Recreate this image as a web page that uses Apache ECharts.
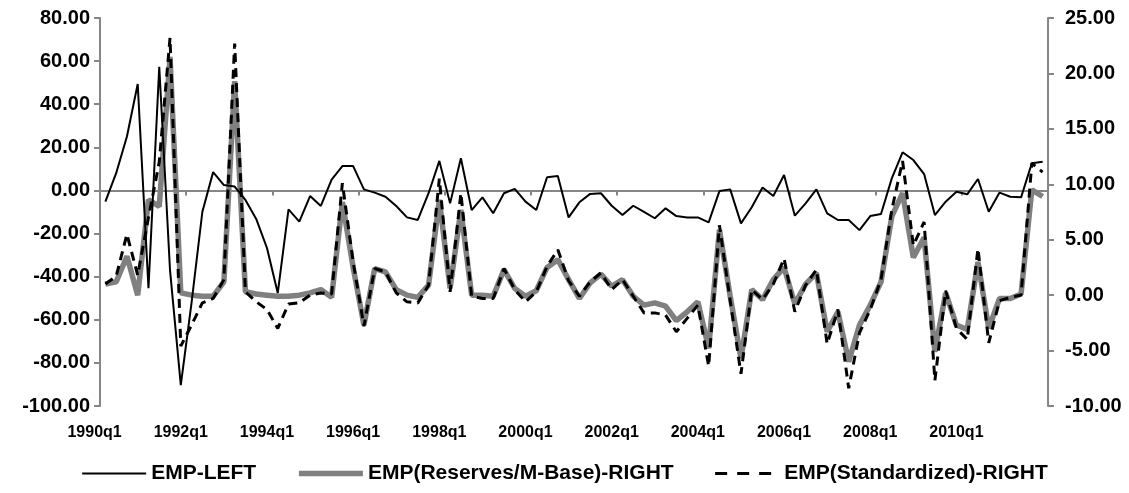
<!DOCTYPE html>
<html><head><meta charset="utf-8">
<script src="https://cdn.jsdelivr.net/npm/echarts@6/dist/echarts.min.js"></script>
<style>html,body{margin:0;padding:0;background:#fff}#c{width:1129px;height:493px}</style>
</head><body><div id="c"></div>
<script>
const quarters = [
'1990q1','1990q2','1990q3','1990q4','1991q1','1991q2','1991q3','1991q4',
'1992q1','1992q2','1992q3','1992q4','1993q1','1993q2','1993q3','1993q4',
'1994q1','1994q2','1994q3','1994q4','1995q1','1995q2','1995q3','1995q4',
'1996q1','1996q2','1996q3','1996q4','1997q1','1997q2','1997q3','1997q4',
'1998q1','1998q2','1998q3','1998q4','1999q1','1999q2','1999q3','1999q4',
'2000q1','2000q2','2000q3','2000q4','2001q1','2001q2','2001q3','2001q4',
'2002q1','2002q2','2002q3','2002q4','2003q1','2003q2','2003q3','2003q4',
'2004q1','2004q2','2004q3','2004q4','2005q1','2005q2','2005q3','2005q4',
'2006q1','2006q2','2006q3','2006q4','2007q1','2007q2','2007q3','2007q4',
'2008q1','2008q2','2008q3','2008q4','2009q1','2009q2','2009q3','2009q4',
'2010q1','2010q2','2010q3','2010q4','2011q1','2011q2','2011q3','2011q4'];

const empLeft = [
-5.2, 8.0, 25.0, 49.4, -45.4, 57.4, -37.0, -90.3,
-52.0, -10.0, 8.5, 2.5, 1.8, -4.4, -13.2, -26.7,
-47.6, -8.8, -14.5, -2.6, -7.2, 5.0, 11.3, 11.3,
0.5, -1.0, -2.9, -7.2, -12.5, -13.7, -1.3, 13.7,
-6.0, 14.9, -9.1, -3.2, -10.6, -1.3, 0.7, -5.2,
-9.1, 6.1, 6.7, -12.5, -5.5, -1.6, -1.3, -7.1,
-11.4, -7.1, -9.9, -12.9, -8.3, -11.9, -12.5, -12.5,
-14.8, -0.3, 0.5, -15.3, -7.8, 1.4, -2.6, 7.2,
-11.7, -6.0, 0.5, -10.6, -13.7, -13.7, -18.4, -11.9,
-10.9, 5.6, 17.7, 14.1, 7.6, -11.4, -5.2, -0.6,
-1.8, 5.3, -9.9, -1.0, -2.9, -3.2, 12.6, 13.3];

const empReserves = [
1.0, 1.2, 3.5, 0.0, 8.6, 8.0, 21.5, 0.2,
0.0, -0.1, -0.1, 1.2, 19.3, 0.3, 0.1, 0.0,
-0.1, -0.1, 0.0, 0.2, 0.5, -0.2, 8.4, 2.5,
-2.7, 2.4, 2.1, 0.5, 0.0, -0.2, 0.9, 8.6,
0.6, 7.7, 0.0, 0.0, -0.1, 2.3, 0.6, -0.1,
0.4, 2.5, 3.2, 1.4, -0.3, 1.1, 1.9, 0.8,
1.4, -0.1, -0.9, -0.7, -1.0, -2.3, -1.5, -0.6,
-4.8, 5.9, -0.1, -5.7, 0.5, -0.4, 1.4, 2.5,
-0.8, 1.0, 2.0, -3.3, -1.5, -6.0, -2.7, -0.9,
1.2, 7.1, 9.2, 3.4, 5.2, -5.1, 0.2, -2.7,
-3.1, 3.0, -3.0, -0.3, -0.3, 0.1, 9.5, 8.9];

const empStandardized = [
1.0, 1.7, 5.5, 1.8, 7.0, 12.0, 23.2, -4.6,
-2.7, -0.7, -0.3, 1.4, 22.7, 0.3, -0.6, -1.3,
-3.0, -0.8, -0.7, 0.0, 0.2, 0.1, 10.1, 3.0,
-2.8, 2.4, 2.1, 0.2, -0.6, -0.7, 0.9, 10.5,
0.3, 9.2, -0.1, -0.3, -0.3, 2.4, 0.5, -0.6,
0.3, 2.6, 4.1, 1.3, -0.1, 1.2, 2.0, 0.5,
1.4, -0.1, -1.6, -1.6, -1.8, -3.3, -2.1, -0.9,
-6.4, 6.3, -0.5, -7.1, 0.5, -0.4, 1.0, 3.3,
-1.5, 0.9, 2.3, -4.4, -1.3, -8.4, -3.4, -1.3,
1.4, 7.7, 12.1, 4.5, 6.6, -7.7, 0.4, -3.0,
-4.0, 4.2, -4.3, -0.5, -0.2, 0.0, 11.9, 11.1];

const seriesNames = ['EMP-LEFT', 'EMP(Reserves/M-Base)-RIGHT', 'EMP(Standardized)-RIGHT'];
const leftAxisRange = [-100, 80, 20];
const rightAxisRange = [-10, 25, 5];

const FONT = '"Liberation Sans", Arial, sans-serif';
const AXIS_GRAY = '#868686';
const chart = echarts.init(document.getElementById('c'), null, {renderer: 'canvas'});

const yAxisCommon = {
  type: 'value',
  splitLine: {show: false},
  axisLine: {show: true, lineStyle: {color: AXIS_GRAY, width: 2}},
  axisTick: {show: true, inside: false, length: 6, lineStyle: {color: AXIS_GRAY, width: 2}},
  axisLabel: {color: '#000', fontFamily: FONT, fontWeight: 'bold', fontSize: 20, margin: 10,
    formatter: v => v.toFixed(2)}
};

chart.setOption({
  animation: false,
  backgroundColor: '#fff',
  grid: {left: 100, right: 81, top: 18, bottom: 87, containLabel: false},
  legend: {
    bottom: 4, left: 'center', itemWidth: 64, itemHeight: 14, itemGap: 40,
    itemStyle: {opacity: 0},
    lineStyle: {width: 'inherit'},
    textStyle: {color: '#000', fontFamily: FONT, fontWeight: 'bold', fontSize: 21},
    data: [
      {name: seriesNames[0], lineStyle: {width: 2}},
      {name: seriesNames[1], lineStyle: {width: 5.5}},
      {name: seriesNames[2], lineStyle: {width: 3, type: [12, 10]}}
    ]
  },
  xAxis: [
    {
      type: 'category', data: quarters, boundaryGap: true, position: 'bottom',
      axisLine: {show: false, onZero: false},
      axisTick: {show: false},
      axisLabel: {interval: 7, color: '#000', fontFamily: FONT, fontWeight: 'bold', fontSize: 16,
        margin: 19, padding: [0, 21.6, 0, 0]}
    },
    {
      type: 'category', data: quarters, boundaryGap: true, position: 'bottom',
      axisLine: {show: true, onZero: true, onZeroAxisIndex: 0, lineStyle: {color: AXIS_GRAY, width: 2}},
      axisTick: {show: true, interval: 7, length: 5, lineStyle: {color: AXIS_GRAY, width: 2}},
      axisLabel: {show: false}
    }
  ],
  yAxis: [
    Object.assign({}, yAxisCommon, {position: 'left', min: leftAxisRange[0], max: leftAxisRange[1], interval: leftAxisRange[2]}),
    Object.assign({}, yAxisCommon, {position: 'right', min: rightAxisRange[0], max: rightAxisRange[1], interval: rightAxisRange[2],
      axisLabel: Object.assign({}, yAxisCommon.axisLabel, {margin: 17})})
  ],
  series: [
    {name: seriesNames[0], type: 'line', xAxisIndex: 0, yAxisIndex: 0, data: empLeft,
      symbol: 'none', lineStyle: {color: '#000', width: 2}, itemStyle: {color: '#000', opacity: 0}, z: 3},
    {name: seriesNames[1], type: 'line', xAxisIndex: 0, yAxisIndex: 1, data: empReserves,
      symbol: 'none', lineStyle: {color: '#808080', width: 5.5}, itemStyle: {color: '#808080', opacity: 0}, z: 2},
    {name: seriesNames[2], type: 'line', xAxisIndex: 0, yAxisIndex: 1, data: empStandardized,
      symbol: 'none', lineStyle: {color: '#000', width: 3, type: [9, 6]}, itemStyle: {color: '#000', opacity: 0}, z: 4}
  ]
});
</script></body></html>
